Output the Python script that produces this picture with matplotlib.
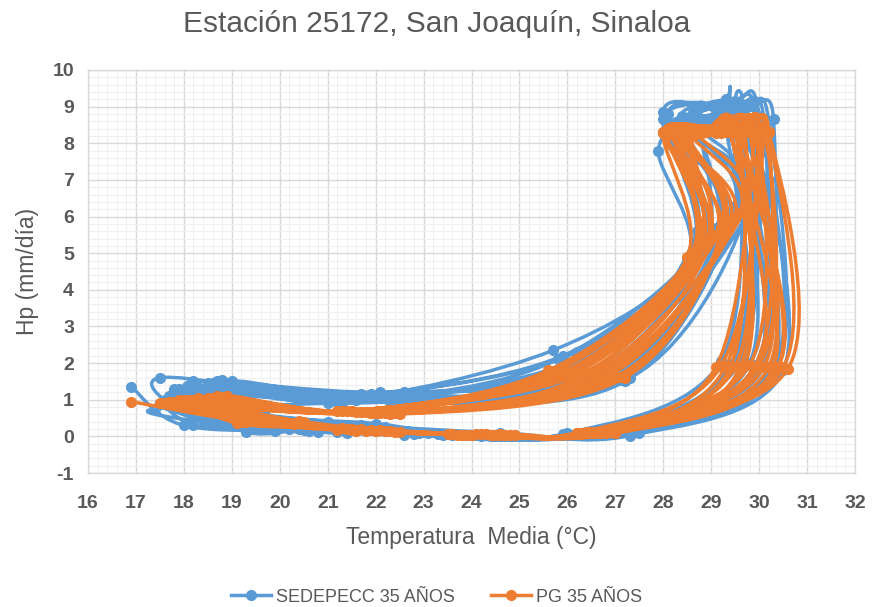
import numpy as np
import matplotlib
matplotlib.use("Agg")
import matplotlib.pyplot as plt
from matplotlib.path import Path
from matplotlib.patches import PathPatch
from matplotlib.lines import Line2D
from matplotlib.ticker import MultipleLocator

plt.rcParams['font.family'] = ['Liberation Sans', 'DejaVu Sans']
plt.rcParams['axes.unicode_minus'] = False

# ---------------- data (monthly, Jan..Dec, one row per year) ----------------
sed_temp = [
    [16.9, 18.0, 20.6, 23.4, 26.4, 29.8, 30.1, 29.4, 28.1, 29.2, 26.7, 21.6],
    [17.5, 18.4, 21.2, 24.2, 26.8, 30.2, 29.8, 29.0, 28.3, 28.8, 26.2, 21.9],
    [17.8, 19.3, 20.9, 22.6, 26.1, 29.5, 29.4, 29.3, 28.5, 29.5, 27.2, 22.3],
    [18.2, 18.9, 21.7, 24.6, 27.3, 30.5, 29.9, 28.7, 27.9, 28.5, 25.7, 21.3],
    [18.5, 19.6, 22.0, 23.9, 26.6, 29.9, 30.3, 29.6, 28.6, 30.0, 27.0, 22.6],
    [17.6, 18.7, 20.2, 22.9, 25.9, 29.2, 29.6, 29.1, 28.0, 28.9, 26.4, 21.0],
    [18.8, 19.1, 21.4, 24.4, 27.0, 30.0, 29.5, 28.9, 28.2, 29.3, 26.9, 22.0],
    [17.9, 18.2, 20.5, 23.8, 26.3, 30.3, 30.0, 29.5, 28.4, 29.8, 27.3, 21.7],
    [19.0, 19.4, 21.0, 23.1, 26.0, 29.6, 29.7, 29.2, 28.8, 29.0, 25.9, 21.4],
    [18.3, 19.8, 22.2, 24.8, 27.5, 30.4, 30.2, 29.7, 28.7, 30.2, 26.6, 22.4],
    [17.4, 18.6, 19.9, 23.3, 26.7, 29.7, 29.3, 29.0, 28.2, 28.6, 26.0, 21.2],
    [18.1, 19.2, 21.5, 24.0, 26.5, 30.1, 29.6, 29.4, 28.1, 29.4, 27.1, 21.8],
    [18.4, 19.0, 21.1, 23.6, 26.2, 29.4, 29.9, 29.3, 28.0, 28.7, 26.3, 21.5],
    [17.7, 18.5, 20.8, 24.3, 26.9, 30.0, 30.1, 29.0, 28.3, 29.6, 26.8, 22.1],
    [18.6, 19.5, 21.6, 22.8, 26.4, 29.8, 29.5, 29.6, 28.5, 29.1, 25.8, 21.6],
    [17.9, 18.8, 20.4, 23.5, 27.2, 30.3, 29.7, 29.2, 28.7, 28.9, 26.5, 21.9],
    [18.0, 19.3, 21.9, 24.1, 26.0, 29.5, 30.0, 29.4, 28.4, 29.7, 27.0, 22.2],
    [18.7, 19.7, 21.3, 24.5, 26.6, 30.1, 29.4, 28.8, 28.1, 28.8, 26.1, 21.3],
]
sed_hp = [
    [1.36, 0.30, 0.15, 0.05, 0.08, 1.95, 8.60, 9.00, 8.80, 5.80, 1.60, 1.10],
    [1.60, 0.45, 0.12, 0.02, 0.10, 1.85, 8.20, 8.70, 8.40, 5.10, 2.30, 1.15],
    [1.30, 0.12, 0.25, 0.05, 0.05, 2.00, 8.90, 9.20, 8.60, 6.30, 1.50, 0.95],
    [1.50, 0.55, 0.30, 0.10, 0.02, 1.80, 8.00, 8.50, 7.80, 4.80, 2.35, 1.00],
    [1.45, 0.60, 0.35, 0.03, 0.12, 1.90, 8.65, 8.80, 9.00, 6.85, 1.90, 1.20],
    [1.00, 0.40, 0.20, 0.08, 0.06, 2.05, 8.30, 8.90, 8.85, 5.50, 1.70, 0.90],
    [1.55, 0.50, 0.10, 0.00, 0.15, 1.95, 8.40, 8.40, 8.10, 6.10, 1.45, 1.05],
    [1.20, 0.32, 0.18, 0.04, 0.09, 1.85, 8.75, 9.15, 8.50, 6.50, 1.60, 1.15],
    [1.50, 0.70, 0.40, 0.10, 0.03, 2.00, 8.10, 8.60, 8.30, 5.30, 2.20, 1.10],
    [1.35, 0.45, 0.25, 0.02, 0.10, 1.90, 8.60, 8.95, 8.70, 7.00, 1.75, 1.00],
    [0.75, 0.35, 0.15, 0.06, 0.07, 2.00, 8.50, 8.55, 8.20, 5.00, 2.00, 0.95],
    [1.40, 0.50, 0.20, 0.05, 0.10, 1.90, 8.45, 8.80, 8.30, 6.00, 1.55, 1.05],
    [1.25, 0.42, 0.22, 0.04, 0.07, 1.95, 8.70, 9.05, 8.65, 5.60, 1.85, 1.10],
    [1.10, 0.38, 0.12, 0.03, 0.11, 1.90, 8.35, 8.65, 8.55, 6.40, 1.50, 1.20],
    [1.45, 0.62, 0.28, 0.06, 0.04, 2.00, 8.80, 9.10, 8.45, 5.70, 2.10, 1.00],
    [1.30, 0.48, 0.20, 0.07, 0.13, 1.85, 8.55, 8.70, 8.90, 5.20, 1.65, 1.05],
    [1.20, 0.52, 0.26, 0.05, 0.08, 1.90, 8.50, 8.85, 8.75, 6.60, 1.70, 1.10],
    [1.50, 0.58, 0.18, 0.02, 0.09, 1.95, 8.25, 8.60, 8.35, 5.40, 1.95, 0.90],
]
pg_temp = [
    [16.9, 19.3, 21.6, 23.8, 26.4, 30.6, 30.2, 29.3, 28.0, 29.0, 26.6, 22.0],
    [18.3, 19.8, 22.1, 24.3, 26.8, 29.4, 29.6, 28.9, 28.3, 28.6, 25.6, 21.5],
    [17.6, 20.3, 21.4, 24.6, 26.3, 29.8, 30.0, 29.5, 28.5, 29.3, 27.2, 22.3],
    [18.7, 19.5, 22.5, 23.5, 27.0, 30.3, 29.4, 29.1, 28.2, 28.8, 26.0, 21.2],
    [18.0, 20.0, 21.8, 24.9, 26.6, 29.1, 29.9, 29.4, 28.1, 29.5, 26.8, 22.5],
    [18.5, 19.1, 21.3, 24.1, 26.5, 30.0, 30.1, 28.7, 28.4, 28.9, 25.8, 21.7],
    [17.8, 20.5, 22.3, 23.7, 26.9, 29.6, 29.7, 29.2, 28.0, 29.2, 27.0, 21.9],
    [18.9, 19.7, 21.5, 24.5, 26.2, 30.4, 29.5, 29.0, 28.6, 28.7, 26.3, 21.4],
    [18.2, 19.4, 22.0, 24.2, 26.7, 29.3, 30.0, 29.6, 28.3, 29.4, 26.9, 22.2],
    [17.5, 20.1, 21.7, 23.9, 26.4, 30.1, 29.8, 29.3, 28.2, 29.1, 26.1, 21.6],
    [18.6, 19.9, 22.4, 24.7, 26.9, 29.7, 29.5, 28.8, 28.0, 28.5, 25.9, 21.8],
    [18.1, 19.6, 21.2, 24.0, 26.6, 30.5, 30.2, 29.7, 28.7, 29.7, 26.5, 22.1],
    [18.4, 19.2, 21.9, 24.4, 26.5, 29.5, 29.7, 29.1, 28.4, 29.2, 26.4, 22.4],
    [17.9, 20.2, 21.5, 23.6, 26.8, 30.2, 29.9, 29.4, 28.1, 28.7, 25.7, 21.3],
    [18.8, 19.5, 22.2, 24.8, 26.3, 29.2, 30.1, 29.5, 28.6, 29.6, 26.7, 21.9],
    [17.7, 19.9, 21.4, 24.0, 27.0, 30.4, 29.6, 28.9, 28.2, 28.9, 26.2, 21.5],
    [18.3, 20.4, 22.0, 24.6, 26.6, 29.9, 30.2, 29.6, 28.5, 29.3, 27.1, 22.0],
    [18.6, 19.6, 21.6, 23.8, 26.2, 30.0, 29.4, 29.2, 28.3, 28.6, 26.0, 21.7],
]
pg_hp = [
    [0.95, 0.40, 0.15, 0.05, 0.10, 1.85, 8.30, 8.35, 8.30, 5.40, 1.70, 0.65],
    [1.05, 0.38, 0.18, 0.06, 0.12, 1.90, 8.25, 8.30, 8.20, 5.00, 1.80, 0.70],
    [0.90, 0.35, 0.20, 0.04, 0.10, 1.95, 8.35, 8.30, 8.25, 5.80, 1.60, 0.60],
    [1.10, 0.42, 0.12, 0.07, 0.08, 1.90, 8.30, 8.28, 8.30, 5.20, 1.75, 0.68],
    [1.00, 0.40, 0.16, 0.05, 0.11, 1.90, 8.30, 8.32, 8.28, 6.00, 1.65, 0.62],
    [1.05, 0.36, 0.22, 0.06, 0.10, 1.92, 8.30, 8.26, 8.22, 5.30, 1.80, 0.66],
    [0.95, 0.40, 0.14, 0.05, 0.12, 1.88, 8.32, 8.30, 8.30, 5.60, 1.62, 0.64],
    [1.10, 0.38, 0.18, 0.04, 0.09, 1.90, 8.28, 8.34, 8.20, 5.10, 1.72, 0.70],
    [1.00, 0.44, 0.15, 0.06, 0.10, 1.90, 8.30, 8.30, 8.25, 5.90, 1.68, 0.63],
    [0.92, 0.36, 0.20, 0.05, 0.11, 1.90, 8.30, 8.30, 8.30, 5.50, 1.78, 0.66],
    [1.05, 0.40, 0.13, 0.04, 0.12, 1.93, 8.33, 8.28, 8.27, 4.90, 1.75, 0.67],
    [1.00, 0.39, 0.17, 0.05, 0.10, 1.88, 8.30, 8.30, 8.32, 6.20, 1.70, 0.65],
    [1.00, 0.40, 0.17, 0.05, 0.11, 1.90, 8.30, 8.30, 8.26, 5.70, 1.72, 0.63],
    [0.98, 0.37, 0.19, 0.06, 0.10, 1.90, 8.31, 8.30, 8.29, 5.10, 1.78, 0.68],
    [1.08, 0.42, 0.14, 0.05, 0.10, 1.91, 8.30, 8.32, 8.24, 6.10, 1.66, 0.64],
    [0.93, 0.39, 0.20, 0.04, 0.09, 1.89, 8.29, 8.30, 8.30, 5.30, 1.76, 0.69],
    [1.02, 0.41, 0.16, 0.06, 0.11, 1.90, 8.30, 8.31, 8.28, 5.80, 1.63, 0.65],
    [1.04, 0.38, 0.18, 0.05, 0.10, 1.92, 8.32, 8.29, 8.22, 5.00, 1.74, 0.67],
]

series_names = ["SEDEPECC 35 AÑOS", "PG 35 AÑOS"]
series_colors = ["#5B9BD5", "#ED7D31"]
x_ticks = list(range(16, 33))
y_ticks = list(range(-1, 11))


def smooth_path(x, y, t=1.0 / 6.0):
    """Excel-like smoothed line (Catmull-Rom Bezier) through the points."""
    p = np.column_stack([x, y])
    n = len(p)
    verts = [p[0]]
    codes = [Path.MOVETO]
    for i in range(n - 1):
        p0 = p[i - 1] if i > 0 else p[i]
        p1 = p[i]
        p2 = p[i + 1]
        p3 = p[i + 2] if i + 2 < n else p[i + 1]
        c1 = p1 + (p2 - p0) * t
        c2 = p2 - (p3 - p1) * t
        verts += [c1, c2, p2]
        codes += [Path.CURVE4] * 3
    return Path(np.array(verts), codes)


fig = plt.figure(figsize=(8.73, 6.07), dpi=100)
ax = fig.add_axes([88 / 873, 1 - 473 / 607, (855 - 88) / 873, (473 - 70) / 607])

label_color = "#595959"
line_w = 2.5
mk_size = 7

for temps, hps, color in [(sed_temp, sed_hp, series_colors[0]), (pg_temp, pg_hp, series_colors[1])]:
    xs = np.concatenate([np.array(r) for r in temps])
    ys = np.concatenate([np.array(r) for r in hps])
    path = smooth_path(xs, ys)
    ax.add_patch(PathPatch(path, facecolor="none", edgecolor=color, lw=line_w,
                           capstyle="round", joinstyle="round", zorder=3))
    ax.plot(xs, ys, linestyle="none", marker="o", markersize=mk_size, color=color, zorder=3)

ax.set_xlim(16, 32)
ax.set_ylim(-1, 10)
ax.set_xticks(x_ticks)
ax.set_yticks(y_ticks)
ax.xaxis.set_minor_locator(MultipleLocator(0.2))
ax.yaxis.set_minor_locator(MultipleLocator(0.2))
ax.grid(which="major", color="#D9D9D9", lw=1.0, zorder=0)
ax.grid(which="minor", color="#F0F0F0", lw=0.8, zorder=0)
ax.set_axisbelow(True)
for s in ax.spines.values():
    s.set_color("#D9D9D9")
    s.set_linewidth(1.0)
ax.tick_params(which="both", length=0)
ax.tick_params(axis="x", pad=16, labelsize=14, labelcolor=label_color)
ax.tick_params(axis="y", pad=10, labelsize=14, labelcolor=label_color)
for lab in ax.get_xticklabels() + ax.get_yticklabels():
    lab.set_fontweight("bold")

ax.set_xlabel("Temperatura  Media (°C)", fontsize=16.5, color=label_color, labelpad=10)
ax.set_ylabel("Hp (mm/día)", fontsize=16.5, color=label_color, labelpad=10)
fig.text(0.5, 1 - 24 / 607, "Estación 25172, San Joaquín, Sinaloa", ha="center", va="center",
         fontsize=21.5, color=label_color)

handles = [Line2D([0], [0], color=c, lw=line_w, marker="o", markersize=mk_size) for c in series_colors]
fig.legend(handles, series_names, loc="center", bbox_to_anchor=(0.5, 1 - 597 / 607), ncol=2,
           frameon=False, fontsize=13, labelcolor=label_color, handlelength=2.2,
           handletextpad=0.3, columnspacing=2.0)

fig.savefig("out.png", dpi=100)
